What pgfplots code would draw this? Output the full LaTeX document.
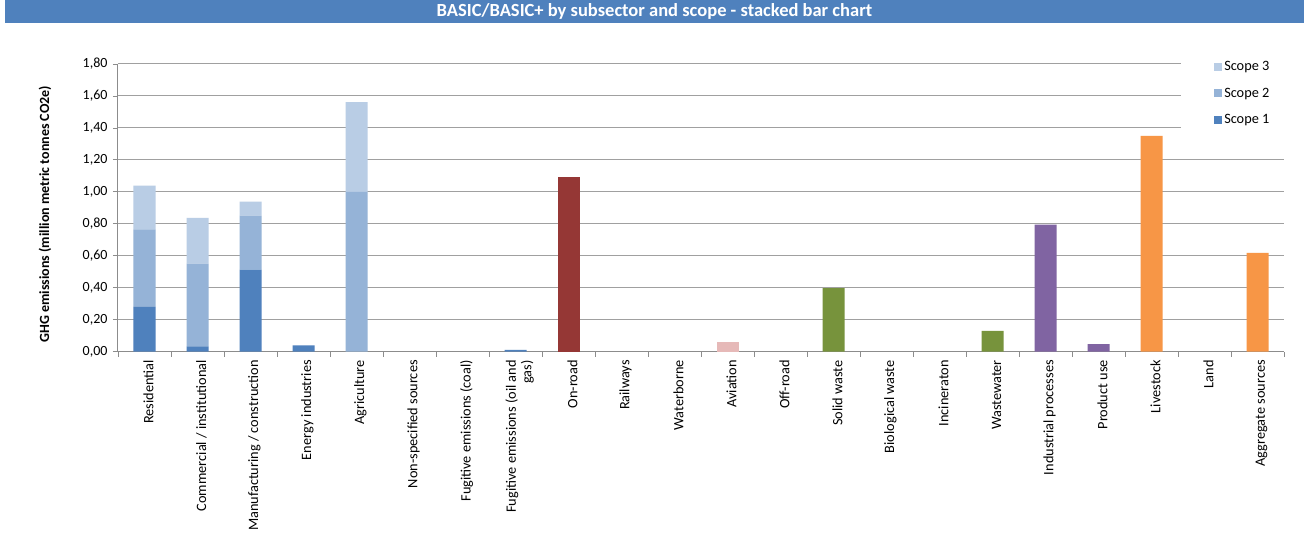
\documentclass[border=0pt]{standalone}
\usepackage{fontspec}
\setmainfont{Carlito}
\usepackage{pgfplots}
\usepackage{pgfplotstable}
\pgfplotsset{compat=1.18}
\definecolor{sA}{HTML}{4F81BD}
\definecolor{sB}{HTML}{95B3D7}
\definecolor{sC}{HTML}{B9CDE5}
\definecolor{trR}{HTML}{953735}
\definecolor{trP}{HTML}{E6B9B8}
\definecolor{wG}{HTML}{77933C}
\definecolor{ipP}{HTML}{8064A2}
\definecolor{afO}{HTML}{F79646}
\definecolor{gridc}{RGB}{160,160,160}
\definecolor{axc}{RGB}{140,140,140}
\pgfplotstableread{
x  s1    s2    s3    tr1   tr3   wst   ipp   afo
0  0.280 0.486 0.273 0     0     0     0     0
1  0.034 0.517 0.286 0     0     0     0     0
2  0.513 0.338 0.088 0     0     0     0     0
3  0.040 0     0     0     0     0     0     0
4  0     1.000 0.561 0     0     0     0     0
5  0     0     0     0     0     0     0     0
6  0     0     0     0     0     0     0     0
7  0.012 0     0     0     0     0     0     0
8  0     0     0     1.093 0     0     0     0
9  0     0     0     0     0     0     0     0
10 0     0     0     0     0     0     0     0
11 0     0     0     0     0.061 0     0     0
12 0     0     0     0     0     0     0     0
13 0     0     0     0     0     0.397 0     0
14 0     0     0     0     0     0     0     0
15 0     0     0     0     0     0     0     0
16 0     0     0     0     0     0.130 0     0
17 0     0     0     0     0     0     0.795 0
18 0     0     0     0     0     0     0.048 0
19 0     0     0     0     0     0     0     1.350
20 0     0     0     0     0     0     0     0
21 0     0     0     0     0     0     0     0.618
}\datatable
\begin{document}
\begin{tikzpicture}
\useasboundingbox[fill=white] (0pt,0pt) rectangle (1309pt,541pt);
\begin{axis}[
  at={(118pt,189.3pt)}, anchor=south west,
  scale only axis, width=1166pt, height=287.7pt,
  ybar stacked, bar width=22pt,
  xmin=-0.5, xmax=21.5, ymin=0, ymax=1.8,
  xtick={0,...,21},
  xticklabels={Residential,Commercial / institutional,Manufacturing / construction,Energy industries,Agriculture,Non-specified sources,Fugitive emissions (coal),{Fugitive emissions (oil and\\gas)},On-road,Railways,Waterborne,Aviation,Off-road,Solid waste,Biological waste,Incineraton,Wastewater,Industrial processes,Product use,Livestock,Land,Aggregate sources},
  minor xtick={-0.5,0.5,...,21.5},
  major x tick style={draw=none},
  ytick={0,0.2,...,1.81},
  tick align=outside, major tick length=5pt, minor tick length=5pt,
  tick style={axc, line width=0.8pt},
  ymajorgrids, major grid style={gridc, line width=1pt},
  axis x line*=bottom, axis y line*=left,
  axis line style={axc, line width=1pt, -},
  xticklabel style={rotate=90, anchor=east, align=right, font=\fontsize{14.3}{15.5}\selectfont, yshift=-4pt},
  yticklabel style={font=\fontsize{14}{16}\selectfont, xshift=-2pt},
  /pgf/number format/.cd, fixed, fixed zerofill, precision=2, use comma, assume math mode=true,
  /pgfplots/.cd,
  ylabel={GHG emissions (million metric tonnes CO2e)},
  ylabel style={at={(axis description cs:-0.0626,0.478)}, anchor=center, font=\bfseries\fontsize{14}{16}\selectfont},
  title={BASIC/BASIC+ by subsector and scope - stacked bar chart},
  title style={at={(axis description cs:0.4601,1.1634)}, anchor=center, fill=sA, text=white, font=\bfseries\fontsize{18.5}{20}\selectfont, minimum width=1299pt, minimum height=24pt, inner sep=0pt},
  legend style={at={(axis description cs:0.9117,1.038)}, anchor=north west, draw=none, fill=white, font=\fontsize{14.3}{16}\selectfont, row sep=11.8pt, inner xsep=33pt, inner ysep=6pt},
  legend cell align=left, reverse legend,
  legend image code/.code={\fill[#1] (0pt,-4pt) rectangle (8pt,4pt);},
]
\addplot[fill=sA, draw=none] table[x=x, y=s1] {\datatable};
\addlegendentry{Scope 1}
\addplot[fill=sB, draw=none] table[x=x, y=s2] {\datatable};
\addlegendentry{Scope 2}
\addplot[fill=sC, draw=none] table[x=x, y=s3] {\datatable};
\addlegendentry{Scope 3}
\addplot[fill=trR, draw=none, forget plot] table[x=x, y=tr1] {\datatable};
\addplot[fill=trP, draw=none, forget plot] table[x=x, y=tr3] {\datatable};
\addplot[fill=wG, draw=none, forget plot] table[x=x, y=wst] {\datatable};
\addplot[fill=ipP, draw=none, forget plot] table[x=x, y=ipp] {\datatable};
\addplot[fill=afO, draw=none, forget plot] table[x=x, y=afo] {\datatable};
\end{axis}
\end{tikzpicture}
\end{document}
